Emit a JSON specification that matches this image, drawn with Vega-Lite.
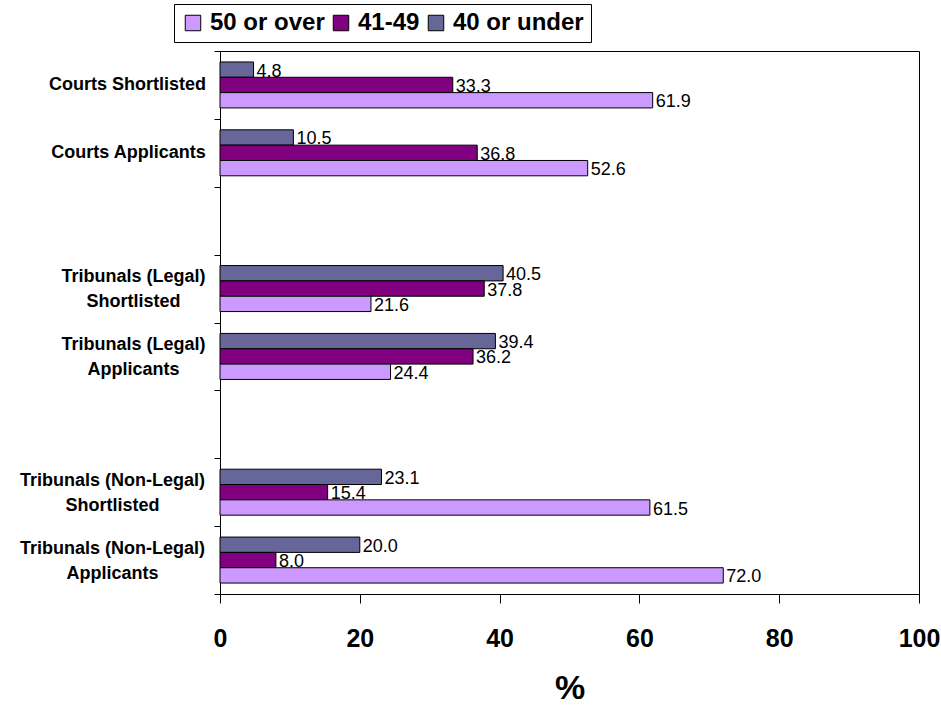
{
  "$schema": "https://vega.github.io/schema/vega-lite/v6.json",
  "width": 699,
  "height": 543,
  "autosize": {"type": "none"},
  "padding": {"left": 220, "top": 51, "right": 22, "bottom": 112},
  "background": "white",
  "config": {
    "view": {"stroke": "#000", "strokeWidth": 1},
    "font": "Liberation Sans"
  },
  "data": {
    "values": [
      {"category": "Courts Shortlisted", "group": "40 or under", "value": 4.8},
      {"category": "Courts Shortlisted", "group": "41-49", "value": 33.3},
      {"category": "Courts Shortlisted", "group": "50 or over", "value": 61.9},
      {"category": "Courts Applicants", "group": "40 or under", "value": 10.5},
      {"category": "Courts Applicants", "group": "41-49", "value": 36.8},
      {"category": "Courts Applicants", "group": "50 or over", "value": 52.6},
      {"category": "Tribunals (Legal)|Shortlisted", "group": "40 or under", "value": 40.5},
      {"category": "Tribunals (Legal)|Shortlisted", "group": "41-49", "value": 37.8},
      {"category": "Tribunals (Legal)|Shortlisted", "group": "50 or over", "value": 21.6},
      {"category": "Tribunals (Legal)|Applicants", "group": "40 or under", "value": 39.4},
      {"category": "Tribunals (Legal)|Applicants", "group": "41-49", "value": 36.2},
      {"category": "Tribunals (Legal)|Applicants", "group": "50 or over", "value": 24.4},
      {"category": "Tribunals (Non-Legal)|Shortlisted", "group": "40 or under", "value": 23.1},
      {"category": "Tribunals (Non-Legal)|Shortlisted", "group": "41-49", "value": 15.4},
      {"category": "Tribunals (Non-Legal)|Shortlisted", "group": "50 or over", "value": 61.5},
      {"category": "Tribunals (Non-Legal)|Applicants", "group": "40 or under", "value": 20.0},
      {"category": "Tribunals (Non-Legal)|Applicants", "group": "41-49", "value": 8.0},
      {"category": "Tribunals (Non-Legal)|Applicants", "group": "50 or over", "value": 72.0}
    ]
  },
  "encoding": {
    "y": {
      "field": "category",
      "type": "nominal",
      "scale": {
        "domain": ["Courts Shortlisted", "Courts Applicants", " ", "Tribunals (Legal)|Shortlisted", "Tribunals (Legal)|Applicants", "  ", "Tribunals (Non-Legal)|Shortlisted", "Tribunals (Non-Legal)|Applicants"],
        "paddingInner": 0,
        "paddingOuter": 0
      },
      "axis": {
        "title": null,
        "tickBand": "extent",
        "tickSize": 6,
        "tickColor": "#000",
        "domainColor": "#000",
        "labelFontSize": 18,
        "labelFontWeight": "bold",
        "labelColor": "#000",
        "labelAlign": "center",
        "labelBaseline": "middle",
        "labelPadding": {
          "condition": [
            {"test": "datum.value == 'Courts Shortlisted'", "value": 87},
            {"test": "datum.value == 'Courts Applicants'", "value": 86},
            {"test": "datum.value == 'Tribunals (Non-Legal)|Shortlisted'", "value": 102},
            {"test": "datum.value == 'Tribunals (Non-Legal)|Applicants'", "value": 102}
          ],
          "value": 81
        },
        "labelOffset": {
          "condition": [
            {"test": "datum.value == 'Courts Shortlisted'", "value": 0},
            {"test": "datum.value == 'Courts Applicants'", "value": 0}
          ],
          "value": -12
        },
        "labelLimit": 400,
        "labelLineHeight": 25,
        "labelExpr": "split(datum.label, '|')"
      }
    },
    "yOffset": {
      "field": "group",
      "type": "nominal",
      "scale": {"domain": ["40 or under", "41-49", "50 or over"], "paddingInner": 0, "paddingOuter": 0.7135}
    },
    "x": {
      "field": "value",
      "type": "quantitative",
      "scale": {"domain": [0, 100], "nice": false},
      "axis": {
        "title": "%",
        "titleFontSize": 34,
        "titleFontWeight": "bold",
        "titleColor": "#000",
        "titlePadding": 20,
        "values": [0, 20, 40, 60, 80, 100],
        "grid": false,
        "tickSize": 9,
        "tickColor": "#000",
        "domainColor": "#000",
        "labelFontSize": 25,
        "labelFontWeight": "bold",
        "labelColor": "#000",
        "labelPadding": 23,
        "labelFlush": false
      }
    }
  },
  "layer": [
    {
      "mark": {"type": "text", "align": "left", "baseline": "middle", "dx": 3, "dy": 2, "fontSize": 18, "color": "#000"},
      "encoding": {
        "text": {"field": "value", "type": "quantitative", "format": ".1f"}
      }
    },
    {
      "mark": {"type": "bar", "stroke": "#000", "strokeWidth": 1},
      "encoding": {
        "color": {
          "field": "group",
          "type": "nominal",
          "scale": {"domain": ["50 or over", "41-49", "40 or under"], "range": ["#CC99FF", "#800080", "#666699"]},
          "legend": {
            "title": null,
            "orient": "none",
            "legendX": -46,
            "legendY": -47,
            "direction": "horizontal",
            "strokeColor": "#000",
            "fillColor": "#fff",
            "padding": 7,
            "symbolType": "square",
            "symbolSize": 240,
            "symbolStrokeColor": "#000",
            "symbolStrokeWidth": 1,
            "symbolOpacity": 1,
            "labelFontSize": 24,
            "labelFontWeight": "bold",
            "labelColor": "#000",
            "labelOffset": 5,
            "columnPadding": 4,
            "labelLimit": 300
          }
        }
      }
    }
  ]
}
